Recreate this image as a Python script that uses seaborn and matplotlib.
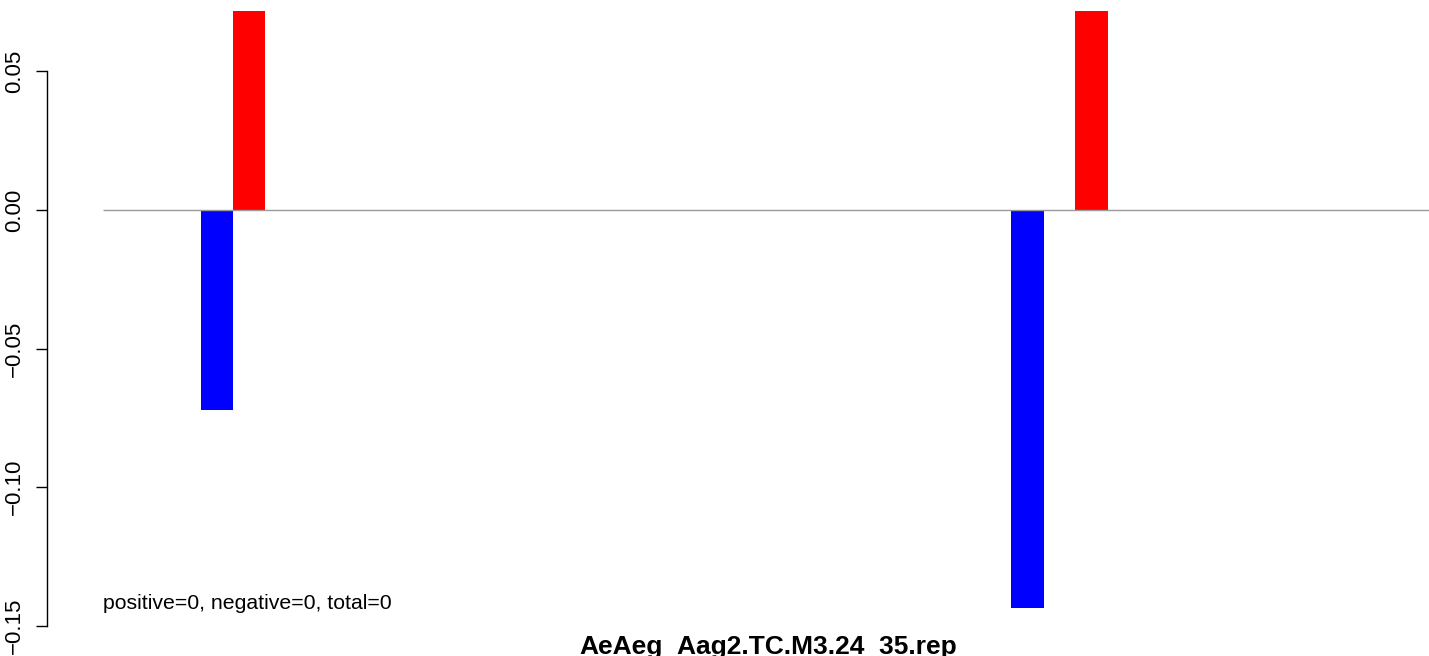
import matplotlib
matplotlib.use("Agg")
import matplotlib.pyplot as plt
import seaborn as sns
import pandas as pd

# Data
positions = [217, 249, 1027.5, 1091.5]
values = [-0.0722, 0.08, -0.1437, 0.08]
strand = ["minus", "plus", "minus", "plus"]
palette = {"minus": "#0000FF", "plus": "#FF0000"}
yticks = [-0.15, -0.10, -0.05, 0.00, 0.05]
ytick_labels = ["\u22120.15", "\u22120.10", "\u22120.05", "0.00", "0.05"]
title = "AeAeg_Aag2.TC.M3.24_35.rep"
note = "positive=0, negative=0, total=0"

sns.set_style("white")
plt.rcParams["font.family"] = ["Liberation Sans", "DejaVu Sans"]
plt.rcParams["text.color"] = "black"
plt.rcParams["ytick.color"] = "black"
plt.rcParams["ytick.labelcolor"] = "black"

W, H = 1429, 656
fig = plt.figure(figsize=(W / 100, H / 100), dpi=100)
top_px, bot_px = 11, 641
ax = fig.add_axes([47 / W, (H - bot_px) / H, (W - 47) / W, (bot_px - top_px) / H])

df = pd.DataFrame({"pos": positions, "val": values, "strand": strand})
sns.barplot(data=df, x="pos", y="val", hue="strand", palette=palette,
            native_scale=True, dodge=False, errorbar=None, legend=False,
            saturation=1, width=1.02, linewidth=0, ax=ax)

px_per_unit = 138.5 / 0.05
ytop = (210 - top_px) / px_per_unit
ybot = -(bot_px - 210) / px_per_unit
ax.set_ylim(ybot, ytop)
ax.set_xlim(47, 1429)

ax.hlines(0, 103, 1429, color="#9a9a9a", linewidth=1.0, zorder=3)

for s in ["top", "right", "bottom"]:
    ax.spines[s].set_visible(False)
ax.spines["left"].set_bounds(-0.15, 0.05)
ax.spines["left"].set_color("black")
ax.spines["left"].set_linewidth(1.0)
ax.set_yticks(yticks)
ax.set_yticklabels(ytick_labels, rotation=90, va="center", fontsize=16, color="black")
ax.tick_params(axis="y", left=True, length=8, width=1.0, color="black",
               labelcolor="black", pad=8)
ax.set_xticks([])
ax.set_xlabel("")
ax.set_ylabel("")

note_y = -(609 - 210) / px_per_unit
ax.text(103, note_y, note, fontsize=15.3, ha="left", va="baseline", color="black",
        transform=ax.transData)
fig.text(768 / W, (H - 654) / H, title, fontsize=19, fontweight="bold", color="black",
         ha="center", va="baseline")

fig.savefig("out.png", dpi=100)
